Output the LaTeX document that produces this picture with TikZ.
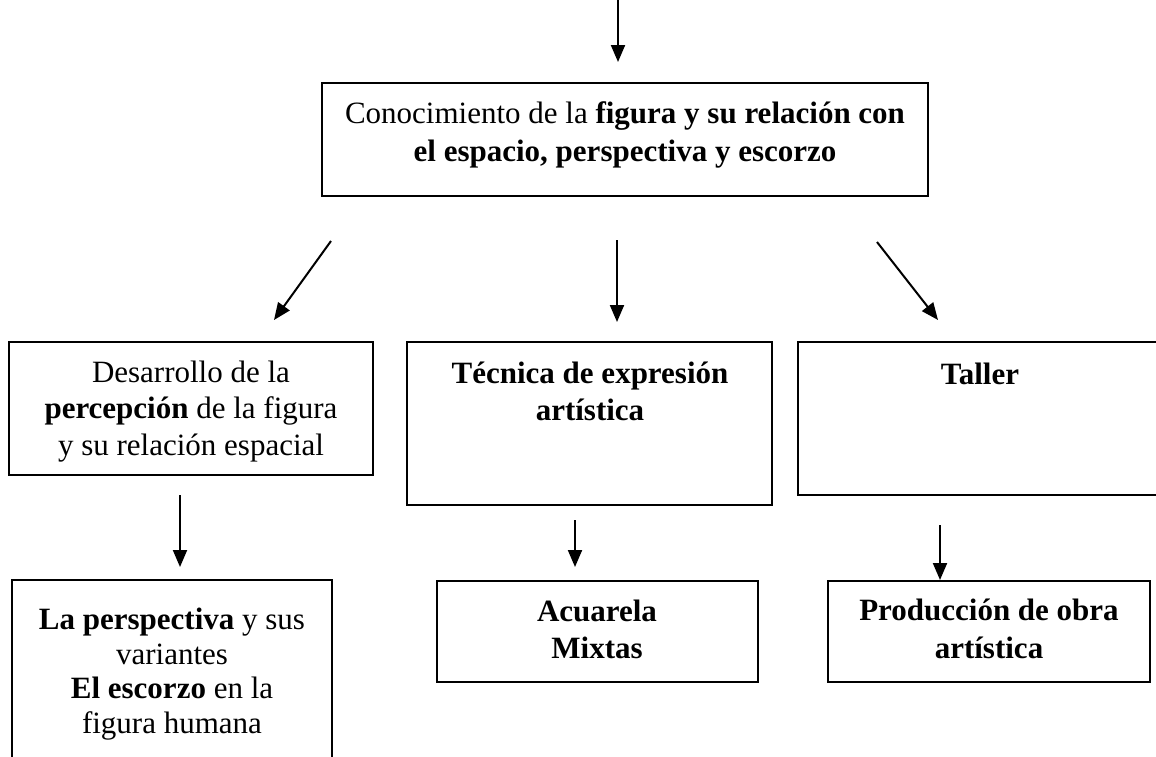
\documentclass[tikz,border=0pt]{standalone}
\usepackage{fontspec}
\setmainfont{Liberation Serif}
\usetikzlibrary{arrows.meta,fit}
\begin{document}
\begin{tikzpicture}[x=0.5pt,y=-0.5pt,
  box/.style={draw, line width=1pt, inner sep=0pt},
  txt/.style={anchor=base, inner sep=0pt, font=\fontsize{15.5}{18}\selectfont},
  arr/.style={line width=1pt, -{Triangle[length=8.5pt,width=7pt]}}]
\useasboundingbox (0,0) rectangle (1156,756);
\clip (0,0) rectangle (1156,756);
\fill[white] (0,0) rectangle (1156,756);

% boxes
\node[box, fit={(322,83) (928,196)}] (main) {};
\node[box, fit={(9,342) (373,475)}] (left) {};
\node[box, fit={(407,342) (772,505)}] (mid) {};
\node[box, fit={(798,342) (1162,495)}] (right) {};
\node[box, fit={(12,580) (332,762)}] (bl) {};
\node[box, fit={(437,581) (758,682)}] (bm) {};
\node[box, fit={(828,581) (1150,682)}] (br) {};

% texts
\node[txt] (m1) at (625,123) {Conocimiento de la \textbf{figura y su relación con}};
\node[txt] (m2) at (625,161) {\textbf{el espacio, perspectiva y escorzo}};

\node[txt] (l1) at (191,382) {Desarrollo de la};
\node[txt] (l2) at (191,418) {\textbf{percepción} de la figura};
\node[txt] (l3) at (191,455) {y su relación espacial};

\node[txt] (c1) at (590,383) {\textbf{Técnica de expresión}};
\node[txt] (c2) at (590,420) {\textbf{artística}};

\node[txt] (r1) at (980,384) {\textbf{Taller}};

\node[txt] (bl1) at (172,629) {\textbf{La perspectiva} y sus};
\node[txt] (bl2) at (172,664) {variantes};
\node[txt] (bl3) at (172,698) {\textbf{El escorzo} en la};
\node[txt] (bl4) at (172,733) {figura humana};

\node[txt] (bm1) at (597,621) {\textbf{Acuarela}};
\node[txt] (bm2) at (597,658) {\textbf{Mixtas}};

\node[txt] (br1) at (989,620) {\textbf{Producción de obra}};
\node[txt] (br2) at (989,658) {\textbf{artística}};

% arrow end points
\coordinate (t0) at (618,-4);
\coordinate (t1) at (618,62);
\coordinate (a0) at (331,241);
\coordinate (a1) at (274,320);
\coordinate (b0) at (617,240);
\coordinate (b1) at (617,322);
\coordinate (c0) at (877,242);
\coordinate (c1e) at (938,320);
\coordinate (d0) at (180,495);
\coordinate (d1) at (180,567);
\coordinate (e0) at (575,520);
\coordinate (e1) at (575,567);
\coordinate (f0) at (940,525);
\coordinate (f1) at (940,580);

\draw[arr] (t0) -- (t1);
\draw[arr] (a0) -- (a1);
\draw[arr] (b0) -- (b1);
\draw[arr] (c0) -- (c1e);
\draw[arr] (d0) -- (d1);
\draw[arr] (e0) -- (e1);
\draw[arr] (f0) -- (f1);
\end{tikzpicture}
\end{document}
